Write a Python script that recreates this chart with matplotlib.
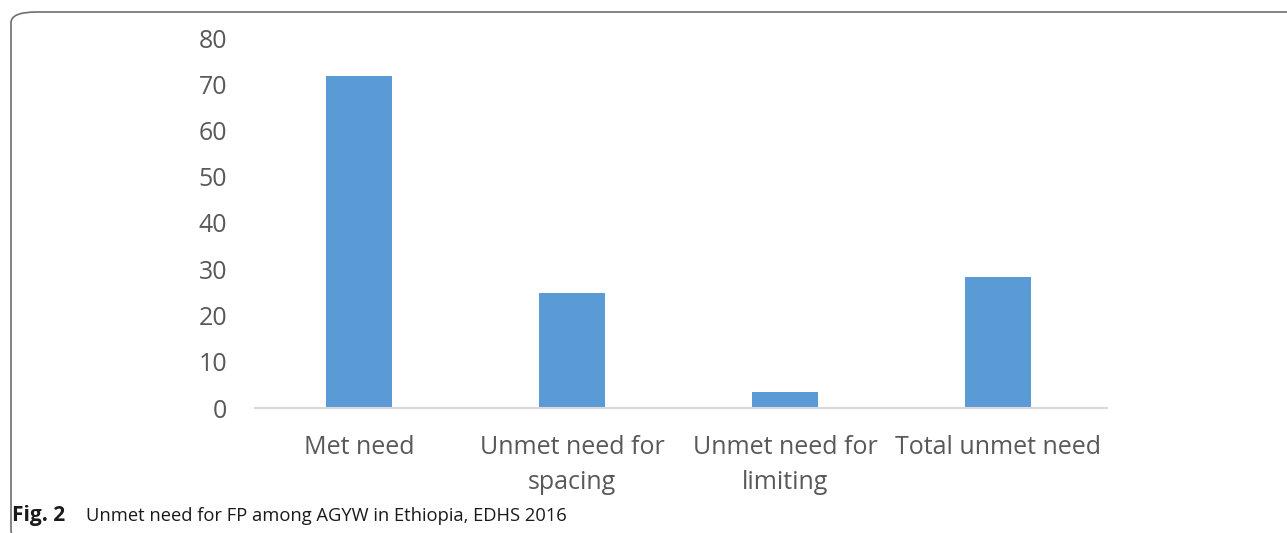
import matplotlib.pyplot as plt
from matplotlib.patches import FancyBboxPatch

categories = ['Met need', 'Unmet need for\nspacing', 'Unmet need for\nlimiting', 'Total unmet need']
values = [71.8, 24.9, 3.5, 28.3]
yticks = [0, 10, 20, 30, 40, 50, 60, 70, 80]

plt.rcParams['font.family'] = ['Open Sans', 'DejaVu Sans']

W, H = 1287, 533
fig = plt.figure(figsize=(W / 100, H / 100), dpi=100)
ax = fig.add_axes([255 / W, 1 - 408 / H, (1107 - 255) / W, (408 - 38) / H])

x = range(len(categories))
ax.bar(x, values, width=0.31, color='#5B9BD5')

ax.set_xlim(-0.49, 3.51)
ax.set_ylim(0, 80)
ax.set_yticks(yticks)
ax.set_xticks(list(x))
ax.set_xticklabels(categories, linespacing=1.5)
ax.tick_params(axis='both', length=0, labelsize=18, labelcolor='#595959')
ax.tick_params(axis='y', pad=20)
ax.tick_params(axis='x', pad=19.5)

for s in ['top', 'right', 'left']:
    ax.spines[s].set_visible(False)
ax.spines['bottom'].set_color('#D9D9D9')
ax.spines['bottom'].set_linewidth(1.5)

# rounded frame of the figure box
frame = FancyBboxPatch((11 / W, -8 / H), 1.2, (533 - 12 + 8) / H,
                       boxstyle='round,pad=0,rounding_size=0.02',
                       transform=fig.transFigure, fill=False,
                       edgecolor='#6E6E6E', linewidth=1.2, clip_on=False)
fig.patches.append(frame)

fig.text(12 / W, 1 - 516 / H, 'Fig. 2', fontsize=15, fontweight='bold',
         va='center', ha='left', color='#1a1a1a')
fig.text(86 / W, 1 - 516 / H, 'Unmet need for FP among AGYW in Ethiopia, EDHS 2016',
         fontsize=13.2, va='center', ha='left', color='#1a1a1a')

fig.savefig('out.png', dpi=100)
